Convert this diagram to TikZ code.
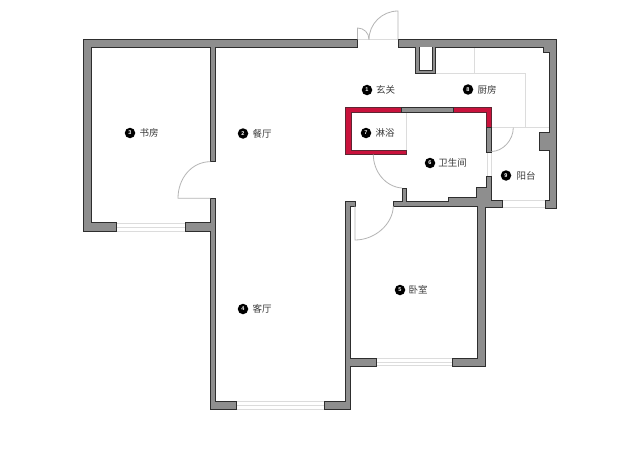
\documentclass[tikz,border=0pt]{standalone}
\usepackage{fontspec}
\newfontfamily\cjk{Noto Sans CJK SC}
\setmainfont{Liberation Sans}
\definecolor{wallfill}{HTML}{8E8E8E}
\definecolor{wallline}{HTML}{2E2E2E}
\definecolor{thinline}{HTML}{DCDCDC}
\definecolor{doorline}{HTML}{B4B4B4}
\definecolor{wetred}{HTML}{C9123C}
\definecolor{ink}{HTML}{3A3A3A}
\tikzset{
  wall/.style={fill=wallfill,draw=wallline,line width=0.9pt,line join=miter},
  redwall/.style={fill=wetred,draw=wallline!70!wetred,line width=0.7pt},
  thin line/.style={draw=thinline,line width=0.7pt},
  door line/.style={draw=doorline,line width=0.8pt},
  glass/.style={draw=thinline,line width=0.8pt},
  marker/.style={circle,fill=black,text=white,inner sep=0pt,minimum size=10.5pt,font=\fontsize{5.5}{5.5}\selectfont\bfseries},
  room/.style={text=ink,inner sep=0pt,font=\cjk\fontsize{9.5}{10}\selectfont}
}
\begin{document}
\begin{tikzpicture}[x=1pt,y=-1pt]
\useasboundingbox[fill=white] (0,0) rectangle (640,452);

% thin fixture lines
\draw[thin line] (474.7,47.5) -- (474.7,73);
\draw[thin line] (435,73) -- (525.3,73) -- (525.3,127.7);
\draw[thin line] (491,127.7) -- (549,127.7);
\draw[thin line] (406.7,112) -- (406.7,150);
\draw[thin line] (357.5,39.5) -- (398,39.5);

% windows
\foreach \y in {222.9,227,230.9} \draw[glass] (116,\y) -- (185,\y);
\foreach \y in {401.5,405.4,409} \draw[glass] (236,\y) -- (324.3,\y);
\foreach \y in {358.2,362,365.8} \draw[glass] (376.7,\y) -- (452,\y);
\foreach \y in {200.3,207.5} \draw[glass] (502.7,\y) -- (545,\y);
\foreach \x in {486.9,491.1} \draw[glass] (\x,152.3) -- (\x,176.7);

% main walls: study, dining room and living room outline
\draw[wall] (83,39.5) -- (357.5,39.5) -- (357.5,47.5) -- (215.5,47.5) -- (215.5,161.7) -- (210.3,161.7) -- (210.3,47.5)
  -- (91,47.5) -- (91,222.7) -- (116,222.7) -- (116,231) -- (83,231) -- cycle;
\draw[wall] (185,222.7) -- (210.3,222.7) -- (210.3,198.3) -- (215.5,198.3) -- (215.5,401.3) -- (236,401.3) -- (236,409.3)
  -- (210.3,409.3) -- (210.3,231) -- (185,231) -- cycle;
\draw[wall] (324.3,401.3) -- (345.7,401.3) -- (345.7,201.7) -- (355,201.7) -- (355,206) -- (350.3,206) -- (350.3,358)
  -- (376.7,358) -- (376.7,366) -- (350.3,366) -- (350.3,409.3) -- (324.3,409.3) -- cycle;

% north-east walls
\draw[wall] (398,39.5) -- (556.7,39.5) -- (556.7,208) -- (545,208) -- (545,200) -- (549,200) -- (549,150) -- (539.3,150)
  -- (539.3,132) -- (549,132) -- (549,52.7) -- (543,52.7) -- (543,47.5) -- (435,47.5) -- (435,73) -- (415.3,73) -- (415.3,47.5) -- (398,47.5) -- cycle;
\draw[fill=white,draw=wallline,line width=0.9pt] (419.3,47.5) -- (419.3,70.7) -- (432.3,70.7) -- (432.3,47.5);

% bathroom and bedroom core wall
\draw[wall] (393.3,201.7) -- (402,201.7) -- (402,188) -- (406.7,188) -- (406.7,201.5) -- (448.3,201.5) -- (448.3,197.7)
  -- (476,197.7) -- (476,187.3) -- (486.7,187.3) -- (486.7,176.7) -- (491.3,176.7) -- (491.3,200) -- (502.7,200)
  -- (502.7,207.7) -- (485.7,207.7) -- (485.7,366) -- (452,366) -- (452,358) -- (477.7,358) -- (477.7,206) -- (393.3,206) -- cycle;

% red shower walls
\draw[redwall] (401,107.7) -- (345.7,107.7) -- (345.7,154.3) -- (406.7,154.3) -- (406.7,150) -- (351,150) -- (351,112.7) -- (401,112.7) -- cycle;
\draw[redwall] (453.3,107.7) -- (491.3,107.7) -- (491.3,127.7) -- (486.7,127.7) -- (486.7,112.7) -- (453.3,112.7) -- cycle;
\draw[wall,line width=0.7pt] (401,107.7) rectangle (453.3,112.7);
\draw[wall,line width=0.7pt] (486.7,127.7) rectangle (491.3,152.3);

% door swings
\draw[door line] (398,39.5) -- (398,11) .. controls (382,11) and (369,24) .. (369,39.5);
\draw[door line] (357.5,39.5) -- (357.5,28) .. controls (364,28) and (369,33) .. (369,39.5);
\draw[door line] (210.3,198.3) -- (178,198.3) .. controls (178,178) and (192,161.7) .. (210.3,161.7);
\draw[door line] (513.3,127.7) .. controls (513.3,140) and (503,151.5) .. (491.3,151.5);
\draw[door line] (373.3,154.3) .. controls (373.3,172) and (386,187) .. (402,188);
\draw[door line] (355,206) -- (355,240) .. controls (375,240) and (393,224) .. (393.3,206);

% room labels
\node[marker] (m1) at (367,90) {1};
\node[room] (t1) at (385.5,90) {玄关};
\node[marker] (m8) at (468,89.5) {8};
\node[room] (t8) at (487,89.5) {厨房};
\node[marker] (m7) at (366,133) {7};
\node[room] (t7) at (385,133) {淋浴};
\node[marker] (m6) at (430,163) {6};
\node[room] (t6) at (452.5,163) {卫生间};
\node[marker] (m9) at (506,175.5) {9};
\node[room] (t9) at (526,175.5) {阳台};
\node[marker] (m3) at (130,133) {3};
\node[room] (t3) at (149,133) {书房};
\node[marker] (m2) at (243,133.5) {2};
\node[room] (t2) at (262,133.5) {餐厅};
\node[marker] (m4) at (243,309) {4};
\node[room] (t4) at (262,309) {客厅};
\node[marker] (m5) at (400,290) {5};
\node[room] (t5) at (418,289.5) {卧室};
\end{tikzpicture}
\end{document}
